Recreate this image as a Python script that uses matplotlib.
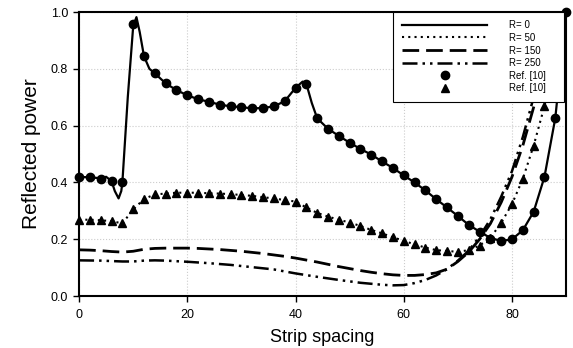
import matplotlib
matplotlib.use("Agg")
import matplotlib.pyplot as plt

plt.rcParams['font.family'] = ['Liberation Sans', 'DejaVu Sans']

# R = 0 (solid)
x_r0 = [0, 2, 4, 5, 6, 6.6, 7.3, 7.8, 8, 9, 10, 10.6, 11.2, 12, 13, 14, 16, 18, 20, 22, 24, 26, 28, 30,
        32, 34, 36, 38, 40, 41.3, 42, 43, 44, 46, 48, 50, 52, 54, 56, 58, 60, 62, 64, 66, 68, 70,
        72, 74, 76, 78, 80, 82, 84, 86, 88, 90]
y_r0 = [0.42, 0.418, 0.415, 0.42, 0.405, 0.37, 0.344, 0.37, 0.40, 0.70, 0.95, 0.982, 0.93, 0.844, 0.80,
        0.784, 0.749, 0.725, 0.707, 0.693, 0.684, 0.674, 0.668, 0.665, 0.661, 0.662, 0.668, 0.686,
        0.733, 0.755, 0.747, 0.68, 0.626, 0.589, 0.564, 0.54, 0.518, 0.498, 0.474, 0.451, 0.425,
        0.40, 0.372, 0.341, 0.312, 0.282, 0.251, 0.227, 0.205, 0.194, 0.20, 0.232, 0.297, 0.42,
        0.627, 1.0]

# R = 50 (dotted)
x_r50 = [0, 2, 4, 6, 8, 10, 12, 14, 16, 18, 20, 22, 24, 26, 28, 30, 32, 34, 36, 38, 40, 42, 44, 46,
         48, 50, 52, 54, 56, 58, 60, 62, 64, 66, 68, 70, 72, 74, 76, 78, 80, 82, 84, 86, 88]
y_r50 = [0.269, 0.269, 0.267, 0.264, 0.256, 0.305, 0.342, 0.358, 0.361, 0.364, 0.364, 0.364, 0.362,
         0.361, 0.359, 0.356, 0.353, 0.348, 0.344, 0.338, 0.333, 0.312, 0.293, 0.28, 0.269, 0.259,
         0.247, 0.233, 0.221, 0.207, 0.195, 0.182, 0.171, 0.162, 0.159, 0.156, 0.162, 0.178, 0.205,
         0.258, 0.324, 0.413, 0.53, 0.669, 0.85]

# R = 150 (dashed)
x_r150 = [0, 2, 4, 6, 8, 10, 12, 14, 16, 18, 20, 22, 24, 26, 28, 30, 32, 34, 36, 38, 40, 42, 44, 46,
          48, 50, 52, 54, 56, 58, 60, 62, 64, 66, 68, 70, 72, 74, 76, 78, 80, 82, 84, 86, 88]
y_r150 = [0.163, 0.162, 0.16, 0.157, 0.155, 0.158, 0.165, 0.168, 0.169, 0.169, 0.169, 0.168, 0.166,
          0.164, 0.161, 0.158, 0.154, 0.15, 0.145, 0.14, 0.134, 0.127, 0.12, 0.112, 0.104, 0.097,
          0.09, 0.084, 0.079, 0.075, 0.073, 0.073, 0.076, 0.082, 0.095, 0.122, 0.155, 0.2, 0.255,
          0.33, 0.42, 0.53, 0.665, 0.82, 0.98]

# R = 250 (dash-dot-dot)
x_r250 = [0, 4, 8, 10, 12, 14, 16, 20, 24, 28, 32, 36, 40, 44, 48, 52, 56, 58, 60, 62, 64, 66, 68,
          70, 72, 74, 76, 78, 80, 82, 84, 86, 88]
y_r250 = [0.126, 0.125, 0.122, 0.122, 0.125, 0.126, 0.125, 0.121, 0.116, 0.11, 0.102, 0.094, 0.08,
          0.068, 0.057, 0.047, 0.04, 0.038, 0.039, 0.046, 0.057, 0.073, 0.095, 0.125, 0.16, 0.21,
          0.27, 0.35, 0.44, 0.56, 0.70, 0.85, 1.0]

# Ref. [10] circles
x_ref_c = [0, 2, 4, 6, 8, 10, 12, 14, 16, 18, 20, 22, 24, 26, 28, 30, 32, 34, 36, 38, 40, 42, 44, 46,
           48, 50, 52, 54, 56, 58, 60, 62, 64, 66, 68, 70, 72, 74, 76, 78, 80, 82, 84, 86, 88, 90]
y_ref_c = [0.42, 0.418, 0.413, 0.407, 0.401, 0.958, 0.844, 0.784, 0.749, 0.725, 0.707, 0.693, 0.684,
           0.674, 0.668, 0.665, 0.661, 0.662, 0.668, 0.686, 0.733, 0.747, 0.626, 0.589, 0.564, 0.54,
           0.518, 0.498, 0.474, 0.451, 0.425, 0.40, 0.372, 0.341, 0.312, 0.282, 0.251, 0.227, 0.20,
           0.195, 0.20, 0.232, 0.297, 0.42, 0.627, 1.0]

# Ref. [10] triangles
x_ref_t = [0, 2, 4, 6, 8, 10, 12, 14, 16, 18, 20, 22, 24, 26, 28, 30, 32, 34, 36, 38, 40, 42, 44, 46,
           48, 50, 52, 54, 56, 58, 60, 62, 64, 66, 68, 70, 72, 74, 76, 78, 80, 82, 84, 86]
y_ref_t = [0.269, 0.269, 0.267, 0.264, 0.256, 0.305, 0.342, 0.358, 0.361, 0.364, 0.364, 0.364, 0.362,
           0.361, 0.359, 0.356, 0.353, 0.348, 0.344, 0.338, 0.333, 0.312, 0.293, 0.28, 0.269, 0.259,
           0.247, 0.233, 0.221, 0.207, 0.195, 0.182, 0.171, 0.162, 0.159, 0.156, 0.162, 0.178, 0.205,
           0.258, 0.324, 0.413, 0.53, 0.669]

fig = plt.figure(figsize=(5.73, 3.48), dpi=100)
ax = fig.add_axes([0.138, 0.149, 0.850, 0.8165])

ax.plot(x_r0, y_r0, '-', color='black', lw=1.6, label='R= 0')
ax.plot(x_r50, y_r50, color='black', lw=1.5, linestyle=(0, (1, 2)), label='R= 50')
ax.plot(x_r150, y_r150, color='black', lw=2, linestyle=(0, (6, 2.5)), label='R= 150')
ax.plot(x_r250, y_r250, color='black', lw=1.8, linestyle=(0, (6, 2, 1, 2, 1, 2)), label='R= 250')
ax.plot(x_ref_c, y_ref_c, 'o', color='black', ms=6, clip_on=False, label='Ref. [10]')
ax.plot(x_ref_t, y_ref_t, '^', color='black', ms=6, clip_on=False, label='Ref. [10]')

ax.set_xlim(0, 90)
ax.set_ylim(0, 1.0)
ax.set_xticks([0, 20, 40, 60, 80])
ax.set_yticks([0.0, 0.2, 0.4, 0.6, 0.8, 1.0])
ax.set_yticklabels(['0.0', '0.2', '0.4', '0.6', '0.8', '1.0'])
ax.tick_params(direction='out', length=4, width=1, labelsize=9)
ax.tick_params(axis='x', pad=5)
ax.tick_params(axis='y', pad=4)
ax.grid(True, color='#cccccc', linestyle=':', linewidth=0.8)
ax.set_axisbelow(True)
for s in ax.spines.values():
    s.set_linewidth(1.5)

ax.set_xlabel('Strip spacing', fontsize=13, labelpad=6)
ax.set_ylabel('Reflected power', fontsize=15, labelpad=7)

leg = ax.legend(loc='upper left', bbox_to_anchor=(0.6455, 0.0, 0.35, 1.0), mode='expand',
                fontsize=7, handlelength=8.8, frameon=True, fancybox=False, framealpha=1,
                edgecolor='black', borderpad=0.85, labelspacing=0.27, handletextpad=2.2,
                borderaxespad=0)
leg.get_frame().set_linewidth(0.8)
leg.set_zorder(5)

fig.savefig('out.png', dpi=100)
